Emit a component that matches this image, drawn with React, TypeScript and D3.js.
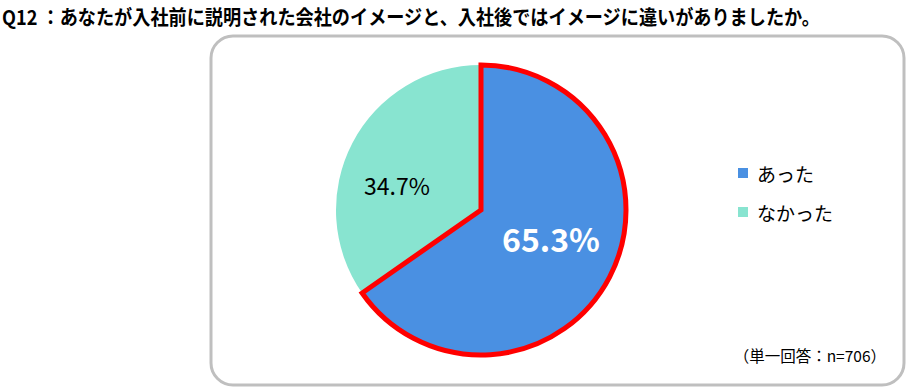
import React from "react";
import * as d3 from "d3";

const categories = ["あった", "なかった"];
const values = [65.3, 34.7];
const colors = ["#4a90e2", "#88e4d0"];
const title = "Q12 ：あなたが入社前に説明された会社のイメージと、入社後ではイメージに違いがありましたか。";
const note = "（単一回答：n=706）";

export default function App() {
  const W = 917, H = 392;
  const cx = 481, cy = 210, r = 145;
  const pie = d3.pie<number>().sort(null).value((d) => d);
  const arcs = pie(values);
  const arc = d3.arc<d3.PieArcDatum<number>>().innerRadius(0).outerRadius(r);
  const font = "'Noto Sans CJK JP', 'Noto Sans', sans-serif";
  const labelPos = [
    { x: 551, y: 238, size: 32, weight: 700, fill: "#ffffff" },
    { x: 397, y: 185, size: 23, weight: 400, fill: "#000000" },
  ];
  return (
    <svg width={W} height={H} style={{ position: "absolute", left: 0, top: 0 }} fontFamily={font}>
      <rect x={0} y={0} width={W} height={H} fill="#fff" />
      <text x={2} y={25} fontSize={20} fontWeight={700} textLength={818} lengthAdjust="spacingAndGlyphs">{title}</text>
      <rect x={211} y={36} width={693} height={349} rx={22} ry={22} fill="#fff" stroke="#bfbfbf" strokeWidth={3} />
      <g transform={`translate(${cx},${cy})`}>
        {arcs.map((a, i) => (
          <path key={i} d={arc(a) || ""} fill={colors[i]} />
        ))}
        <path d={arc(arcs[0]) || ""} fill="none" stroke="#ff0000" strokeWidth={5} strokeLinejoin="miter" />
      </g>
      {values.map((v, i) => (
        <text key={i} x={labelPos[i].x} y={labelPos[i].y} fontSize={labelPos[i].size} fontWeight={labelPos[i].weight}
          fill={labelPos[i].fill} textAnchor="middle" dominantBaseline="central">{v.toFixed(1)}%</text>
      ))}
      {categories.map((c, i) => (
        <g key={c} transform={`translate(738,${173 + i * 39})`}>
          <rect x={0} y={-5} width={10} height={10} fill={colors[i]} />
          <text x={19} y={0} fontSize={19} dominantBaseline="central" fill="#000">{c}</text>
        </g>
      ))}
      <text x={886} y={355} fontSize={15.5} textAnchor="end" dominantBaseline="central" fill="#000">{note}</text>
    </svg>
  );
}
